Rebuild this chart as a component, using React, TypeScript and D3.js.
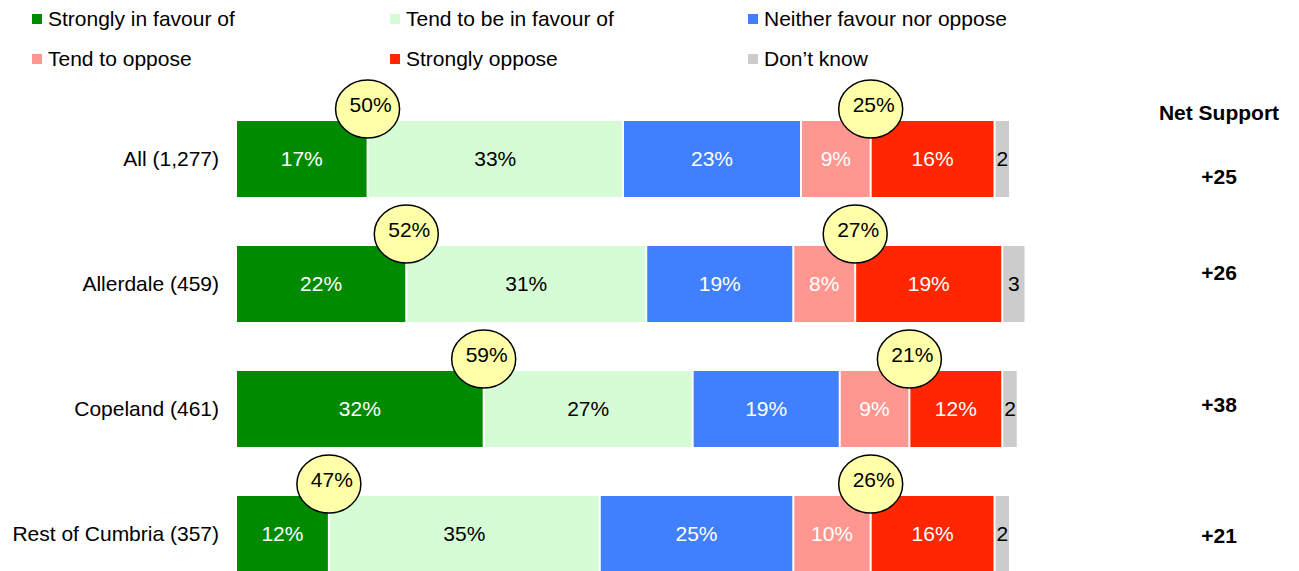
import React from 'react';
import * as d3 from 'd3';

const categories = ['All (1,277)', 'Allerdale (459)', 'Copeland (461)', 'Rest of Cumbria (357)'];
const seriesNames = [
  'Strongly in favour of',
  'Tend to be in favour of',
  'Neither favour nor oppose',
  'Tend to oppose',
  'Strongly oppose',
  'Don\u2019t know',
];
const stronglyFavour = [17, 22, 32, 12];
const tendFavour = [33, 31, 27, 35];
const neither = [23, 19, 19, 25];
const tendOppose = [9, 8, 9, 10];
const stronglyOppose = [16, 19, 12, 16];
const dontKnow = [2, 3, 2, 2];
const totalFavour = [50, 52, 59, 47];
const totalOppose = [25, 27, 21, 26];
const netSupport = ['+25', '+26', '+38', '+21'];

const colors = ['#008a00', '#d6fcd6', '#4080ff', '#ff9790', '#ff2600', '#cccccc'];
const textColors = ['#fff', '#000', '#fff', '#fff', '#fff', '#000'];

const W = 1299;
const H = 571;
const FONT = 'Liberation Sans, Arial, Helvetica, sans-serif';
const FS = 21;
// net support labels sit slightly off the row centres in the original layout
const netNudge = [18, -11, -4, 2];

export default function App() {
  const series = [stronglyFavour, tendFavour, neither, tendOppose, stronglyOppose, dontKnow];
  const x = d3.scaleLinear().domain([0, 100]).range([237, 1011]);
  const y = d3.scaleBand<string>().domain(categories).range([121, 572]).paddingInner(0.392).paddingOuter(0);
  const bw = y.bandwidth();
  const gap = 2;

  const legendX = d3.scalePoint<number>().domain([0, 1, 2]).range([32, 748]);
  const legendY = d3.scalePoint<number>().domain([0, 1]).range([19, 59]);

  return (
    <svg width={W} height={H} style={{ position: 'absolute', left: 0, top: 0, fontFamily: FONT }}>
      <rect width={W} height={H} fill="#fff" />
      {/* legend */}
      {seriesNames.map((name, i) => {
        const lx = legendX(i % 3)!;
        const ly = legendY(Math.floor(i / 3))!;
        return (
          <g key={name}>
            <rect x={lx} y={ly - 5} width={10} height={10} fill={colors[i]} />
            <text x={lx + 16} y={ly} dy="0.35em" fontSize={FS} fill="#000">{name}</text>
          </g>
        );
      })}

      {/* category labels */}
      {categories.map((c) => (
        <text key={c} x={219} y={y(c)! + bw / 2} dy="0.35em" textAnchor="end" fontSize={FS} fill="#000">{c}</text>
      ))}

      {/* stacked bars */}
      {categories.map((c, ci) => {
        let cum = 0;
        return (
          <g key={c}>
            {series.map((s, si) => {
              const v = s[ci];
              const x0 = x(cum);
              const x1 = x(cum + v);
              cum += v;
              const label = si === 5 ? `${v}` : `${v}%`;
              return (
                <g key={si}>
                  <rect x={x0} y={y(c)} width={Math.max(0, x1 - x0 - gap)} height={bw} fill={colors[si]} />
                  <text x={(x0 + x1 - gap) / 2} y={y(c)! + bw / 2} dy="0.35em" textAnchor="middle" fontSize={FS} fill={textColors[si]}>{label}</text>
                </g>
              );
            })}
          </g>
        );
      })}

      {/* total bubbles */}
      {categories.map((c, ci) => {
        const fx = x(stronglyFavour[ci]) - gap / 2;
        const ox = x(stronglyFavour[ci] + tendFavour[ci] + neither[ci] + tendOppose[ci]) - gap / 2;
        const cy = y(c)! - 12;
        return (
          <g key={c}>
            {[
              [fx, totalFavour[ci]],
              [ox, totalOppose[ci]],
            ].map(([bx, v], k) => (
              <g key={k}>
                <ellipse cx={bx} cy={cy} rx={32} ry={29} fill="#ffffaa" stroke="#000" strokeWidth={1.5} />
                <text x={bx + 3} y={cy - 4} dy="0.35em" textAnchor="middle" fontSize={FS} fill="#000">{`${v}%`}</text>
              </g>
            ))}
          </g>
        );
      })}

      {/* net support */}
      <text x={1219} y={113} dy="0.35em" textAnchor="middle" fontSize={FS} fontWeight="bold" fill="#000">Net Support</text>
      {categories.map((c, ci) => (
        <text key={c} x={1219} y={y(c)! + bw / 2 + netNudge[ci]} dy="0.35em" textAnchor="middle" fontSize={FS} fontWeight="bold" fill="#000">{netSupport[ci]}</text>
      ))}
    </svg>
  );
}
